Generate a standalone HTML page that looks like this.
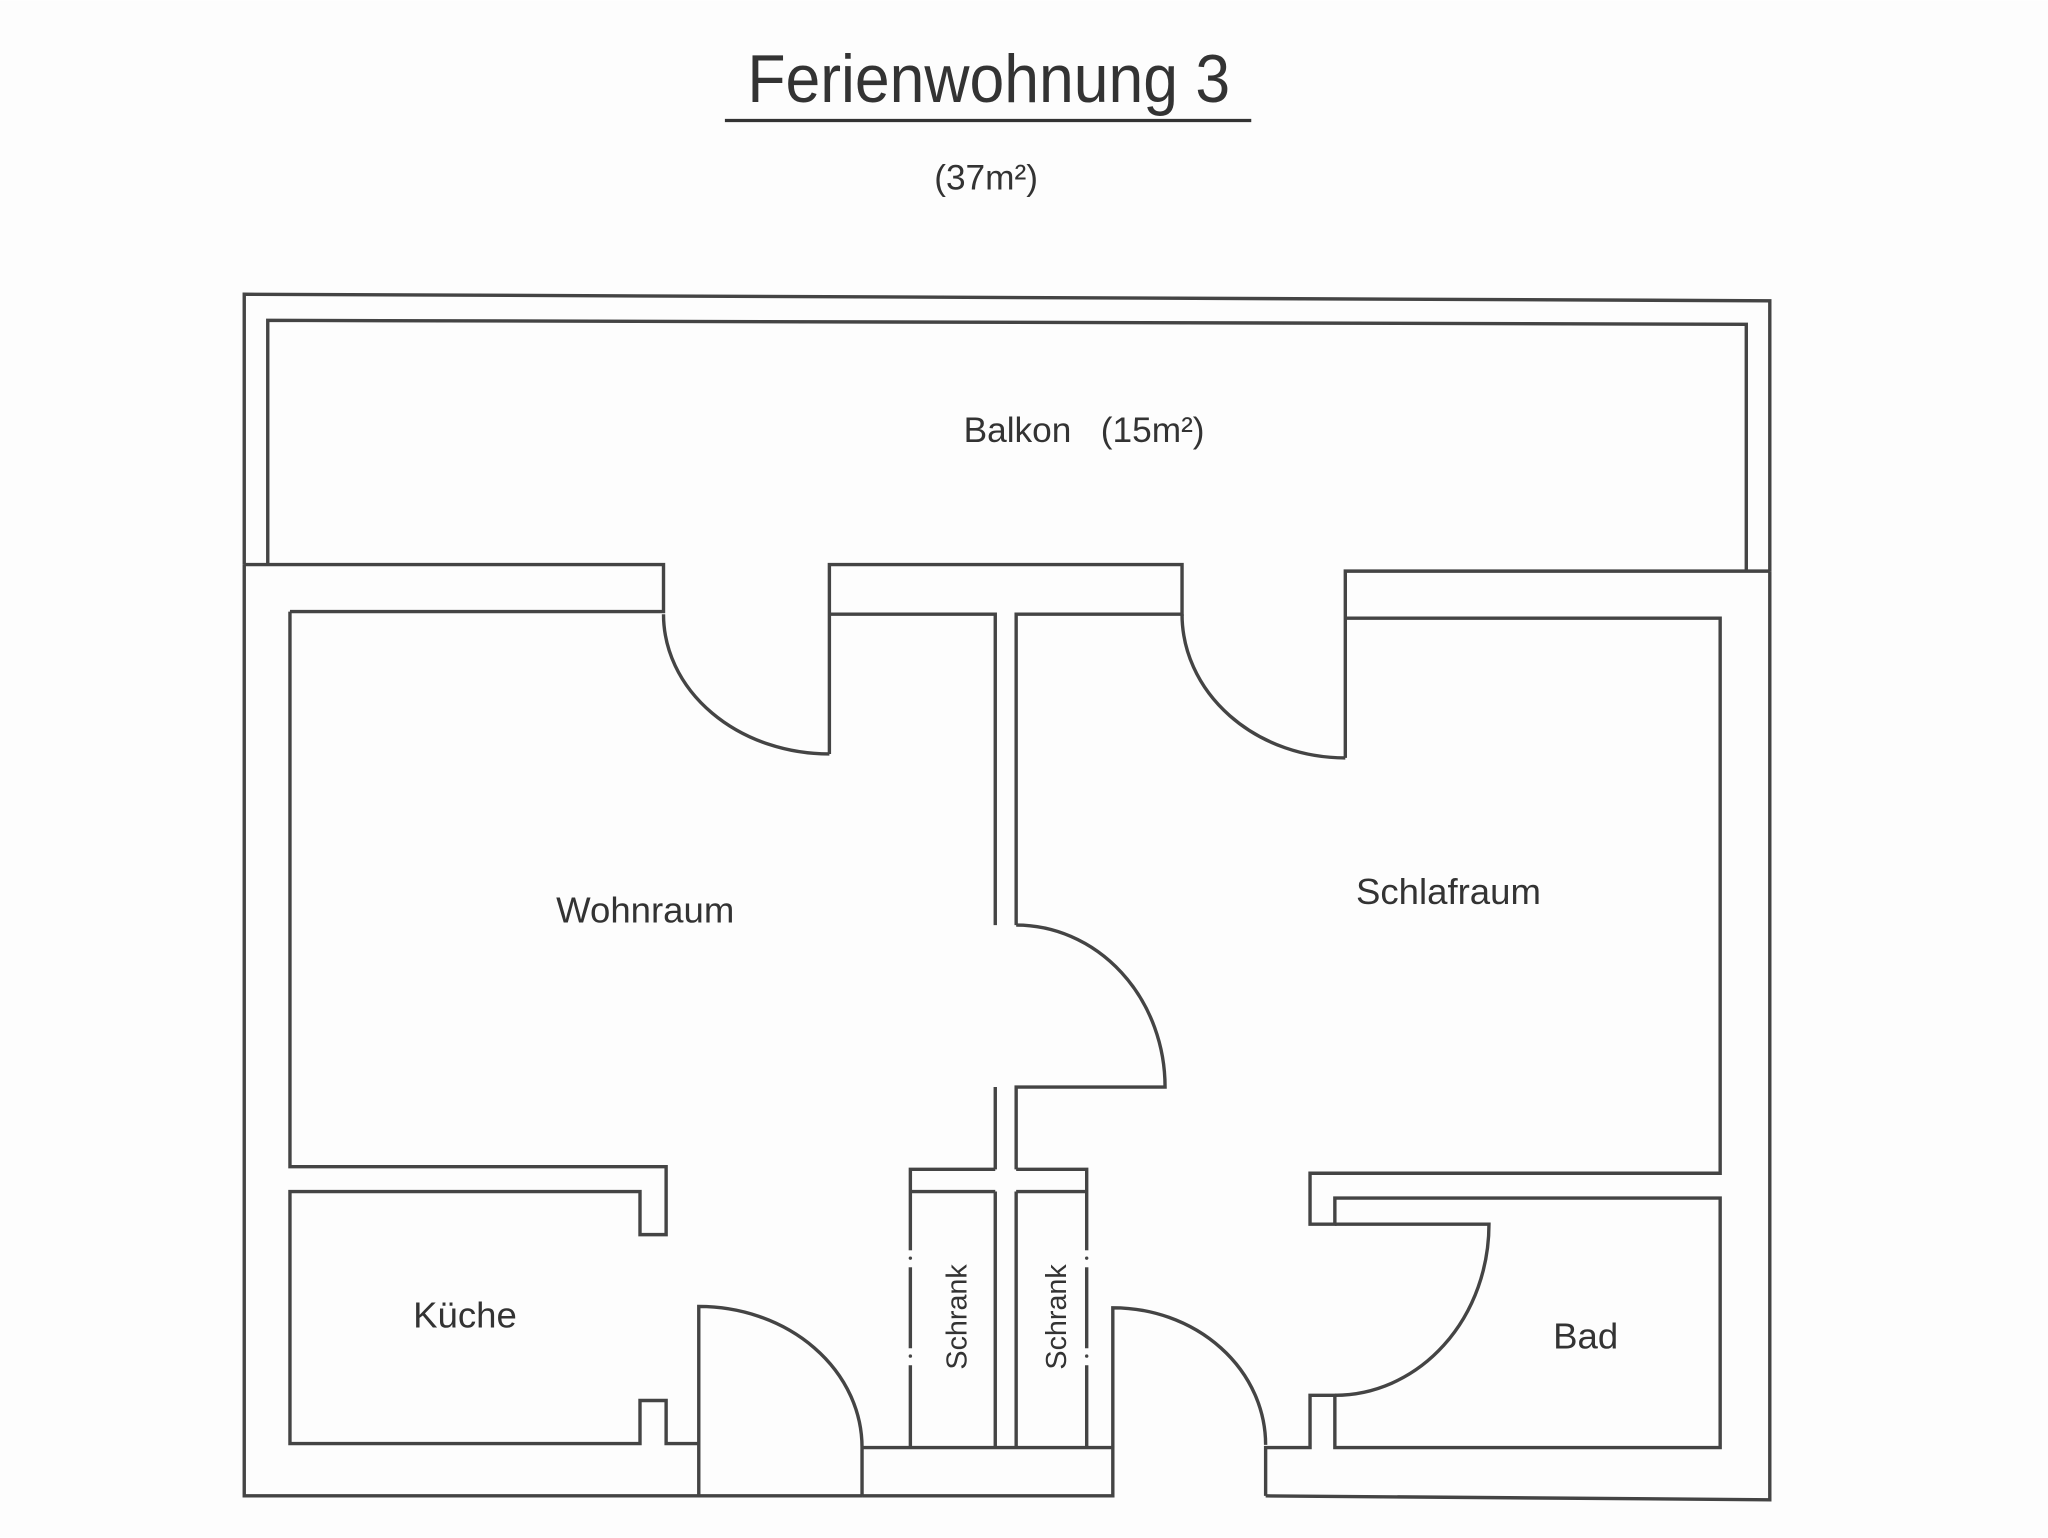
<!DOCTYPE html>
<html><head><meta charset="utf-8"><style>
html,body{margin:0;padding:0;background:#fff;}
svg{display:block;}
text{font-family:"Liberation Sans",sans-serif;fill:#333;}
</style></head><body>
<svg width="2048" height="1538" viewBox="0 0 1568 1177" xmlns="http://www.w3.org/2000/svg">
<rect width="1568" height="1177" fill="#fdfdfd"/>
<text x="757" y="78" font-size="52" text-anchor="middle" transform="translate(757 0) scale(0.92 1) translate(-757 0)">Ferienwohnung 3</text>
<line x1="555" y1="92" x2="958" y2="92" stroke="#333" stroke-width="2.5"/>
<text x="755" y="145" font-size="27" text-anchor="middle">(37m²)</text>
<g fill="none" stroke="#444" stroke-width="2.6">
<polyline points="187,432 187,225 1355,230 1355,437"/>
<polyline points="205,432 205,245 1337,248 1337,437"/>
<polyline points="187,432 187,1145 660,1145"/>
<polyline points="969,1145 1355,1148 1355,437"/>
<polyline points="187,432 508,432 508,468 222,468"/>
<polyline points="635,577 635,432 905,432 905,470 778,470 778,708"/>
<polyline points="635,470 762,470 762,708"/>
<polyline points="1030,580 1030,437 1355,437"/>
<polyline points="1030,473 1317,473 1317,898 1003,898 1003,937 1022,937 1022,917 1317,917 1317,1108 1022,1108 1022,1068 1003,1068 1003,1108 969,1108 969,1145"/>
<path d="M508,470 A127,107 0 0 0 635,577"/>
<path d="M905,470 A125,110 0 0 0 1030,580"/>
<path d="M778,708 A114,124 0 0 1 892,832 L778,832 L778,895"/>
<line x1="762" y1="832" x2="762" y2="895"/>
<path d="M1022,937 L1140,937 A118,131 0 0 1 1022,1068"/>
<polyline points="222,468 222,893 510,893 510,945 490,945 490,912 222,912 222,1105 490,1105 490,1072 510,1072 510,1105 535,1105"/>
<path d="M535,1145 L535,1000 A125,108 0 0 1 660,1108 L660,1145"/>
<polyline points="660,1108 852,1108 852,1145 660,1145"/>
<path d="M852,1108 L852,1001 A117,105 0 0 1 969,1106"/>
<polyline points="697,1108 697,895 762,895"/>
<polyline points="778,895 832,895 832,1108"/>
<line x1="697" y1="912" x2="762" y2="912"/>
<line x1="778" y1="912" x2="832" y2="912"/>
<line x1="762" y1="912" x2="762" y2="1108"/>
<line x1="778" y1="912" x2="778" y2="1108"/>
</g>
<g stroke="#fdfdfd" stroke-width="4">
<line x1="697" y1="957" x2="697" y2="970"/><line x1="697" y1="1032" x2="697" y2="1045"/>
<line x1="832" y1="957" x2="832" y2="970"/><line x1="832" y1="1032" x2="832" y2="1045"/>
</g>
<g fill="#444"><circle cx="697" cy="963" r="1.3"/><circle cx="697" cy="1038" r="1.3"/><circle cx="832" cy="963" r="1.3"/><circle cx="832" cy="1038" r="1.3"/></g>
<text x="830" y="338" font-size="27" text-anchor="middle" style="white-space:pre">Balkon   (15m²)</text>
<text x="494" y="706" font-size="28" text-anchor="middle">Wohnraum</text>
<text x="1109" y="692" font-size="28" text-anchor="middle">Schlafraum</text>
<text x="356" y="1016" font-size="28" text-anchor="middle">Küche</text>
<text x="1214" y="1032" font-size="28" text-anchor="middle">Bad</text>
<text font-size="22" text-anchor="middle" transform="translate(740 1008) rotate(-90)">Schrank</text>
<text font-size="22" text-anchor="middle" transform="translate(816 1008) rotate(-90)">Schrank</text>
</svg>
</body></html>
